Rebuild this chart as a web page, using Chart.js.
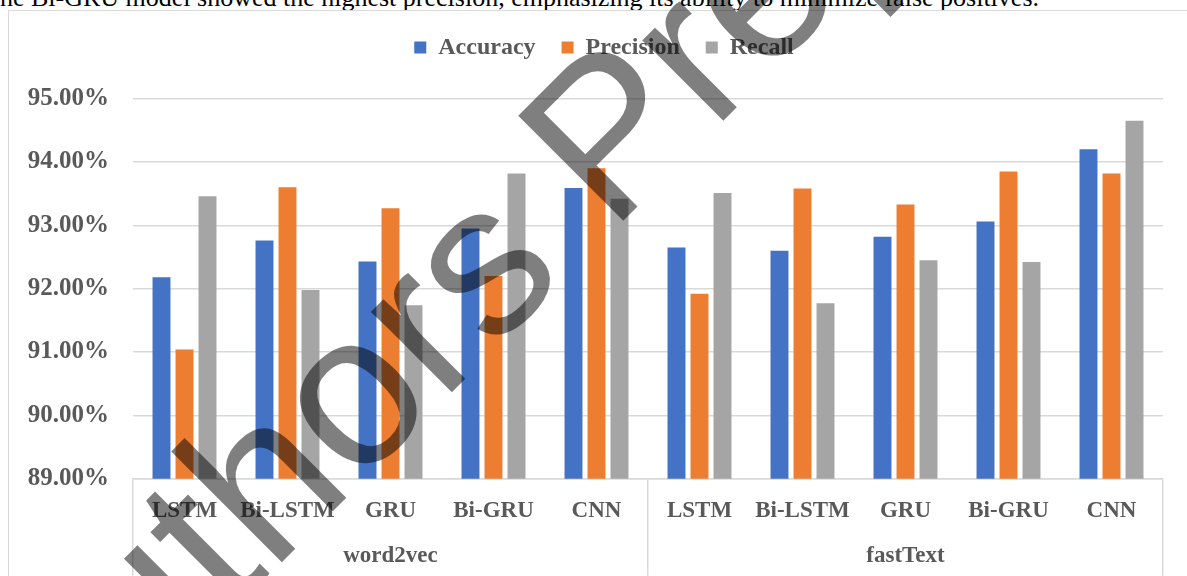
<!DOCTYPE html>
<html>
<head>
<meta charset="utf-8">
<script src="https://cdn.jsdelivr.net/npm/chart.js@4.4.1/dist/chart.umd.min.js"></script>
<style>
    html, body { margin: 0; padding: 0; background: #fff; overflow: hidden; }
    body { width: 1187px; height: 576px; position: relative; }
    #linea-texto {
        position: absolute; left: -16px; top: -15px; white-space: nowrap;
        font-family: "Liberation Serif", serif; font-size: 26px; line-height: 26px; color: #000;
    }
    #marco {
        position: absolute; left: 8px; top: 10px; width: 1200px; height: 620px;
        border: 1px solid #d9d9d9; box-sizing: border-box;
    }
    #grafica { position: absolute; left: 0; top: 0; }
</style>
</head>
<body>
<div id="linea-texto">The Bi-GRU model showed the highest precision, emphasizing its ability to minimize false positives.</div>
<div id="marco"></div>
<canvas id="grafica" width="1187" height="576"></canvas>
<script>
// Datos (porcentajes)
const modelos = ['LSTM', 'Bi-LSTM', 'GRU', 'Bi-GRU', 'CNN', 'LSTM', 'Bi-LSTM', 'GRU', 'Bi-GRU', 'CNN'];
const grupos = ['word2vec', 'fastText'];
const accuracy = [92.18, 92.76, 92.43, 92.95, 93.59, 92.65, 92.60, 92.82, 93.06, 94.20];
const precision = [91.04, 93.60, 93.27, 92.20, 93.90, 91.92, 93.58, 93.33, 93.85, 93.82];
const recall = [93.46, 91.98, 91.74, 93.82, 93.42, 93.51, 91.77, 92.45, 92.42, 94.65];

const colores = ['#4472C4', '#ED7D31', '#A5A5A5'];
const gris = '#d9d9d9';
const textoGris = '#595959';
const fuente = '"Liberation Serif", serif';

// Marca de agua encima de todo
const marcaAgua = {
    id: 'marcaAgua',
    afterDraw(chart) {
        const ctx = chart.ctx;
        ctx.save();
        ctx.translate(42, 802);
        ctx.rotate(-Math.PI / 4);
        ctx.font = '216px "Liberation Sans", Arial, sans-serif';
        ctx.fillStyle = 'rgba(0,0,0,0.5)';
        ctx.textBaseline = 'alphabetic';
        ctx.fillText('Authors Preprint', 0, 0);
        ctx.restore();
    }
};

const barra = { categoryPercentage: 0.67, barPercentage: 0.78 };

new Chart(document.getElementById('grafica').getContext('2d'), {
    type: 'bar',
    data: {
        labels: modelos,
        datasets: [
            { label: 'Accuracy', data: accuracy, backgroundColor: colores[0], ...barra },
            { label: 'Precision', data: precision, backgroundColor: colores[1], ...barra },
            { label: 'Recall', data: recall, backgroundColor: colores[2], ...barra }
        ]
    },
    options: {
        responsive: false,
        animation: false,
        devicePixelRatio: 1,
        layout: { padding: { left: 20, right: -1, top: 9.5, bottom: 8.3 } },
        plugins: {
            legend: {
                position: 'top',
                labels: {
                    boxWidth: 12, boxHeight: 12, padding: 26, color: textoGris,
                    font: { family: fuente, size: 24, weight: 'bold' }
                }
            },
            tooltip: { enabled: false }
        },
        scales: {
            x: {
                offset: true,
                grid: {
                    offset: true, drawOnChartArea: false, drawTicks: true, tickLength: 97, lineWidth: 1.5,
                    color: c => (c.index === undefined || c.index % 5 === 0) ? gris : 'rgba(0,0,0,0)'
                },
                border: { display: true, color: gris, width: 1.5 },
                ticks: {
                    padding: -78.5, color: textoGris, maxRotation: 0, autoSkip: false,
                    font: { family: fuente, size: 23, weight: 'bold' }
                },
                afterFit: s => { s.height = 44; }
            },
            grupo: {
                type: 'category',
                labels: grupos,
                position: 'bottom',
                offset: true,
                grid: { display: false },
                border: { display: false },
                ticks: {
                    padding: 11.4, color: textoGris,
                    font: { family: fuente, size: 23, weight: 'bold' }
                },
                afterFit: s => { s.height = 45; }
            },
            y: {
                min: 89,
                max: 95.46,
                ticks: {
                    stepSize: 1, padding: 24, color: textoGris,
                    font: { family: fuente, size: 25, weight: 'bold' },
                    callback: v => v.toFixed(2) + '%'
                },
                afterBuildTicks: s => { s.ticks = s.ticks.filter(t => t.value <= 95.001); },
                grid: { color: gris, lineWidth: 1.5, drawTicks: false },
                border: { display: false },
                afterFit: s => { s.width = 113; }
            },
            // eje vacío a la derecha: deja el área de datos en su sitio y centra la leyenda como en la figura
            yDer: {
                position: 'right',
                display: true,
                grid: { display: false },
                border: { display: false },
                ticks: { display: false },
                afterFit: s => { s.width = 25; }
            }
        }
    },
    plugins: [marcaAgua]
});
</script>
</body>
</html>
